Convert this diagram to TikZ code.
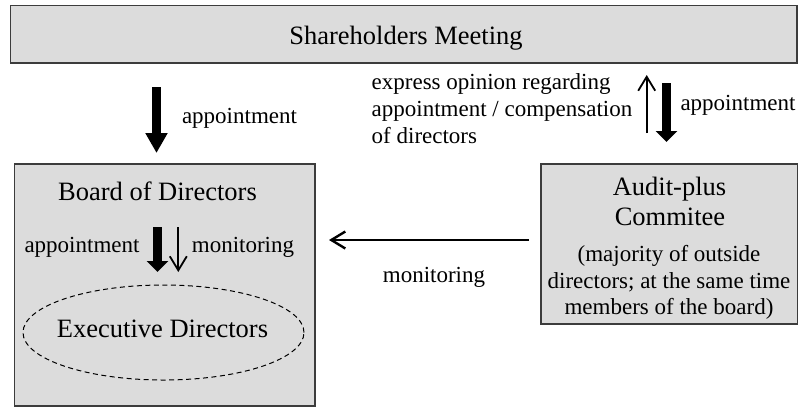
\documentclass[tikz,border=0pt]{standalone}
\usepackage{fontspec}
\setmainfont{Liberation Serif}
\usetikzlibrary{arrows.meta,shapes.geometric}
\definecolor{boxfill}{HTML}{DCDCDC}
\definecolor{boxline}{HTML}{3C3C3C}
\begin{document}
\begin{tikzpicture}[x=1pt,y=-1pt,
  box/.style={draw=boxline, fill=boxfill, line width=1.6pt, inner sep=0pt, rectangle},
  big/.style={font=\fontsize{26.5}{30}\selectfont},
  small/.style={font=\fontsize{23}{27}\selectfont},
  lbl/.style={inner sep=0pt, anchor=base},
  lblw/.style={inner sep=0pt, anchor=base west},
  fatarrow/.style={line width=9pt, -{Triangle[length=#1,width=21pt]}},
  thinarrow/.style={line width=1.8pt, -{Straight Barb[length=14pt,width=17pt]}},
]
\useasboundingbox (0,0) rectangle (799,408);
% boxes
\node[box, minimum width=786.5pt, minimum height=57.5pt] (share) at (403.75,34.25) {};
\node[box, minimum width=300.5pt, minimum height=242pt] (board) at (164.75,285) {};
\node[box, minimum width=256.5pt, minimum height=160pt] (audit) at (669.25,244) {};
\node[draw=black, ellipse, dashed, dash pattern=on 5pt off 3.5pt, line width=1pt,
      minimum width=281pt, minimum height=95pt, inner sep=0pt] (exec) at (163.5,332.5) {};
% texts
\node[lbl,big] (shtext) at (406,44) {Shareholders Meeting};
\node[lbl,small] (app1) at (239.5,123) {appointment};
\node[lblw,small] (ex1) at (371.5,89) {express opinion regarding};
\node[lblw,small] (ex2) at (371.5,116) {appointment / compensation};
\node[lblw,small] (ex3) at (371.5,143) {of directors};
\node[lbl,small] (app2) at (738,110) {appointment};
\node[lbl,big] (bdtext) at (157.5,200) {Board of Directors};
\node[lbl,small] (app3) at (82,252.7) {appointment};
\node[lbl,small] (mon1) at (243,252.7) {monitoring};
\node[lbl,big] (extext) at (162.5,337) {Executive Directors};
\node[lbl,big] (au1) at (669.5,195) {Audit-plus};
\node[lbl,big] (au2) at (670,225) {Commitee};
\node[lbl,small] (au3) at (669,261.5) {(majority of outside};
\node[lbl,small] (au4) at (669,288) {directors; at the same time};
\node[lbl,small] (au5) at (669,314.5) {members of the board)};
\node[lbl,small] (mon2) at (434,282) {monitoring};
% arrow end points
\coordinate (a1s) at (156.5,87);   \coordinate (a1e) at (156.5,153);
\coordinate (a2s) at (666.5,83);   \coordinate (a2e) at (666.5,142);
\coordinate (u1s) at (646.7,133);  \coordinate (u1e) at (646.7,75);
\coordinate (i1s) at (157.5,227);  \coordinate (i1e) at (157.5,272);
\coordinate (i2s) at (178.3,227);  \coordinate (i2e) at (178.3,272);
\coordinate (m1s) at (529,240);    \coordinate (m1e) at (329,240);
% arrows
\draw[fatarrow=20pt] (a1s) -- (a1e);
\draw[fatarrow=11pt] (a2s) -- (a2e);
\draw[thinarrow] (u1s) -- (u1e);
\draw[fatarrow=11pt] (i1s) -- (i1e);
\draw[thinarrow] (i2s) -- (i2e);
\draw[thinarrow, line width=2.4pt] (m1s) -- (m1e);
\end{tikzpicture}
\end{document}
